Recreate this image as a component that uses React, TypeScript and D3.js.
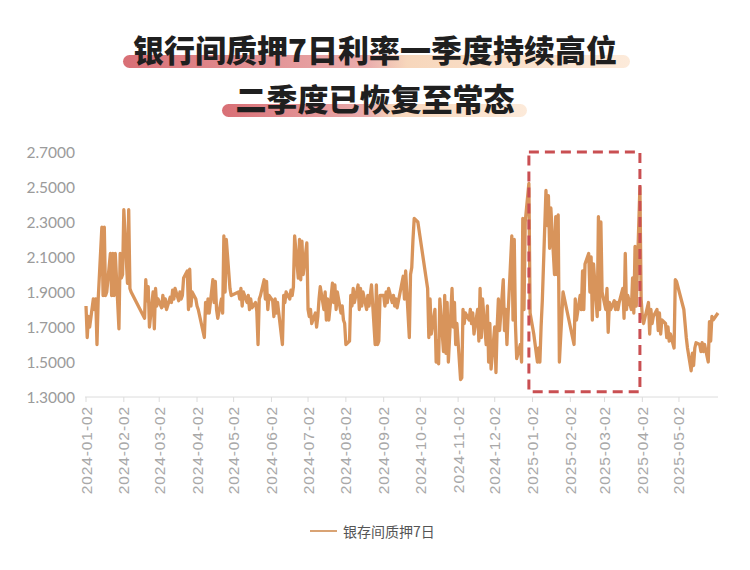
import React from "react";
import * as d3 from "d3";

const titleLines = ["银行间质押7日利率一季度持续高位", "二季度已恢复至常态"];
const seriesName = "银存间质押7日";

const months = [
  "2024-01", "2024-02", "2024-03", "2024-04", "2024-05", "2024-06",
  "2024-07", "2024-08", "2024-09", "2024-10", "2024-11", "2024-12",
  "2025-01", "2025-02", "2025-03", "2025-04", "2025-05", "2025-06",
];

// daily rates (%) per month, one value per trading day
const rates2024H1 = [
  [1.82, 1.64, 1.76, 1.70, 1.86, 1.80, 1.86, 1.60, 1.86, 2.27, 1.88, 2.27, 1.88, 1.90, 2.12, 1.88, 2.12, 1.88, 2.12, 1.69, 2.12, 1.98],
  [2.00, 2.37, 1.95, 2.37, 1.92, 1.90, 1.75, 1.97, 1.85, 1.93, 1.70, 1.90, 1.69, 1.92, 1.82],
  [1.86, 1.81, 1.88, 1.82, 1.86, 1.80, 1.87, 1.84, 1.91, 1.86, 1.92, 1.85, 1.90, 1.86, 1.88, 1.98, 2.02, 1.80, 2.03, 1.82, 1.90],
  [1.86, 1.82, 1.80, 1.64, 1.84, 1.78, 1.86, 1.78, 1.97, 1.84, 1.96, 1.80, 1.75, 1.86, 1.78, 2.22, 1.90, 2.20, 1.92, 1.88],
  [1.90, 1.86, 1.92, 1.82, 1.90, 1.84, 1.88, 1.80, 1.86, 1.81, 1.84, 1.79, 1.60, 1.86, 1.88, 1.97, 1.86, 1.96, 1.80, 1.88],
  [1.85, 1.76, 1.86, 1.78, 1.84, 1.60, 1.88, 1.84, 1.90, 1.86, 1.91, 1.88, 1.93, 2.22, 1.98, 2.20, 1.97, 2.19, 2.00],
];
const rates2024H2 = [
  [2.18, 1.80, 1.76, 1.80, 1.72, 1.78, 1.70, 1.76, 1.86, 1.93, 1.80, 1.90, 1.74, 1.86, 1.74, 1.95, 1.84, 1.94, 1.80, 1.90, 1.78, 1.82, 1.74],
  [1.72, 1.60, 1.62, 1.88, 1.82, 1.92, 1.84, 1.94, 1.80, 1.92, 1.82, 1.90, 1.80, 1.88, 1.82, 1.88, 1.94, 1.60, 1.94, 1.60, 1.62, 1.88],
  [1.88, 1.82, 1.90, 1.84, 1.92, 1.84, 1.88, 1.82, 1.86, 1.81, 1.99, 1.86, 2.02, 1.64, 2.00, 2.04, 2.20, 2.32, 2.30],
  [1.92, 1.64, 1.86, 1.66, 1.80, 1.50, 1.62, 1.49, 1.86, 1.56, 1.88, 1.55, 1.84, 1.50, 1.92, 1.70, 1.84, 1.60],
  [1.72, 1.40, 1.41, 1.80, 1.72, 1.78, 1.74, 1.80, 1.72, 1.78, 1.66, 1.80, 1.62, 1.92, 1.64, 1.86, 1.60, 1.82, 1.50, 1.72, 1.46],
  [1.70, 1.44, 1.70, 1.86, 1.68, 1.97, 1.68, 1.80, 1.60, 1.78, 2.22, 1.74, 2.20, 1.71, 1.52, 1.60, 1.50, 2.32, 1.80, 2.30, 2.52, 1.78],
];
const rates2025 = [
  [1.70, 1.66, 1.50, 1.58, 1.50, 1.70, 1.85, 2.48, 2.28, 2.45, 2.15, 2.38, 2.00, 2.33, 2.00, 2.34, 1.50, 1.90],
  [1.60, 1.86, 1.74, 1.88, 1.80, 2.02, 1.80, 2.06, 2.12, 1.90, 2.10, 1.74, 2.06, 1.76, 2.33, 1.80, 2.30, 1.90],
  [1.80, 1.92, 1.67, 1.84, 1.80, 1.85, 1.80, 1.84, 1.80, 1.84, 1.92, 1.75, 2.12, 1.80, 1.88, 1.80, 1.98, 1.78, 2.16, 1.82, 2.50],
  [1.86, 1.76, 1.72, 1.84, 1.66, 1.80, 1.72, 1.76, 1.80, 1.68, 1.78, 1.66, 1.74, 1.72, 1.64, 1.70, 1.62, 1.66, 1.58, 1.97, 1.96],
  [1.80, 1.72, 1.64, 1.58, 1.45, 1.55, 1.48, 1.58, 1.61, 1.60, 1.56, 1.61, 1.56, 1.60, 1.50, 1.73, 1.62, 1.76, 1.74],
  [1.78],
];

const holidays = [
  "2024-01-01", "2024-02-09", "2024-02-12", "2024-02-13", "2024-02-14", "2024-02-15", "2024-02-16",
  "2024-04-04", "2024-04-05", "2024-05-01", "2024-05-02", "2024-05-03", "2024-06-10",
  "2024-09-16", "2024-09-17", "2024-10-01", "2024-10-02", "2024-10-03", "2024-10-04", "2024-10-07",
  "2025-01-01", "2025-01-28", "2025-01-29", "2025-01-30", "2025-01-31", "2025-02-03", "2025-02-04",
  "2025-04-04", "2025-05-01", "2025-05-02", "2025-05-05", "2025-06-02",
];

const xTickLabels = [
  "2024-01-02", "2024-02-02", "2024-03-02", "2024-04-02", "2024-05-02", "2024-06-02",
  "2024-07-02", "2024-08-02", "2024-09-02", "2024-10-02", "2024-11-02", "2024-12-02",
  "2025-01-02", "2025-02-02", "2025-03-02", "2025-04-02", "2025-05-02",
];
const yTicks = [1.3, 1.5, 1.7, 1.9, 2.1, 2.3, 2.5, 2.7];
const highlightDates = ["2024-12-30", "2025-03-31"];
const highlightValues = [1.33, 2.7];

const parse = d3.timeParse("%Y-%m-%d");
const fmt = d3.timeFormat("%Y-%m-%d");

function buildPoints() {
  const hol = new Set(holidays);
  const all = [...rates2024H1, ...rates2024H2, ...rates2025];
  const pts: { date: Date; value: number }[] = [];
  months.forEach((m, i) => {
    const start = parse(m + "-01") as Date;
    const end = d3.timeMonth.offset(start, 1);
    const days = d3.timeDay
      .range(start, end)
      .filter((d) => d.getDay() !== 0 && d.getDay() !== 6 && !hol.has(fmt(d)));
    (all[i] || []).forEach((v, j) => {
      if (days[j]) pts.push({ date: days[j], value: v });
    });
  });
  return pts;
}

export default function App() {
  const W = 750;
  const H = 570;
  const points = buildPoints();
  const x = d3
    .scaleTime()
    .domain(d3.extent(points, (d) => d.date) as [Date, Date])
    .range([86, 718]);
  const y = d3.scaleLinear().domain([1.3, 2.7]).range([397, 152]);
  const line = d3
    .line<{ date: Date; value: number }>()
    .x((d) => x(d.date))
    .y((d) => y(d.value));
  const yFmt = d3.format(".4f");

  const hx0 = x(parse(highlightDates[0]) as Date);
  const hx1 = x(parse(highlightDates[1]) as Date);
  const hy0 = y(highlightValues[1]);
  const hy1 = y(highlightValues[0]);

  const titleFont = '"Noto Sans CJK SC", sans-serif';
  const bars = [
    { x0: 123, x1: 630, y: 55, h: 13 },
    { x0: 222, x1: 527, y: 104, h: 13 },
  ];
  const titleY = [48, 97];

  return (
    <svg
      width={W}
      height={H}
      style={{ position: "absolute", left: 0, top: 0, background: "#fff" }}
    >
      <defs>
        <linearGradient id="barGrad" x1="0" x2="1" y1="0" y2="0">
          <stop offset="0%" stopColor="#d45f66" />
          <stop offset="48%" stopColor="#e7a3a3" />
          <stop offset="56%" stopColor="#f6d2b4" />
          <stop offset="100%" stopColor="#fce8d6" />
        </linearGradient>
      </defs>
      <rect width={W} height={H} fill="#fff" />
      {bars.map((b, i) => (
        <rect
          key={i}
          x={b.x0}
          y={b.y}
          width={b.x1 - b.x0}
          height={b.h}
          rx={b.h / 2}
          fill="url(#barGrad)"
          opacity={0.9}
        />
      ))}
      {titleLines.map((t, i) => (
        <text
          key={t}
          x={375}
          y={titleY[i]}
          textAnchor="middle"
          dominantBaseline="central"
          fontFamily={titleFont}
          fontWeight={900}
          fontSize={31}
          fill="#1f1f1f"
        >
          {t}
        </text>
      ))}

      {yTicks.map((t) => (
        <text
          key={t}
          x={75}
          y={y(t)}
          textAnchor="end"
          dominantBaseline="central"
          fontFamily="Lato, sans-serif"
          fontSize={15.5}
          fill="#9b9b9b"
        >
          {yFmt(t)}
        </text>
      ))}

      <line x1={85} x2={718} y1={397} y2={397} stroke="#dcdcdc" strokeWidth={1} />
      {xTickLabels.map((t) => {
        const xx = x(parse(t) as Date);
        return (
          <g key={t}>
            <line x1={xx} x2={xx} y1={397} y2={402} stroke="#dcdcdc" strokeWidth={1} />
            <text
              transform={`translate(${xx},${406}) rotate(-90)`}
              textAnchor="end"
              dominantBaseline="central"
              fontFamily='"Liberation Sans", Arial, sans-serif'
              fontSize={15.5}
              letterSpacing={0.9}
              fill="#a8a8a8"
            >
              {t}
            </text>
          </g>
        );
      })}

      <path
        d={line(points) || ""}
        fill="none"
        stroke="#d8945b"
        strokeWidth={3.3}
        strokeLinejoin="round"
      />

      <rect
        x={hx0}
        y={hy0}
        width={hx1 - hx0}
        height={hy1 - hy0}
        fill="none"
        stroke="#c94f52"
        strokeWidth={3}
        strokeDasharray="10 6"
      />

      <line x1={310} x2={337} y1={531} y2={531} stroke="#d9a374" strokeWidth={2} />
      <text
        x={343}
        y={531}
        dominantBaseline="central"
        fontFamily={titleFont}
        fontSize={14}
        fill="#555"
      >
        {seriesName}
      </text>
    </svg>
  );
}
